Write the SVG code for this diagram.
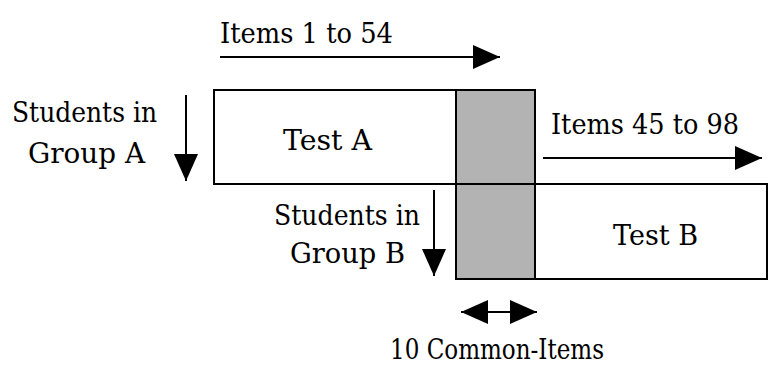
<svg xmlns="http://www.w3.org/2000/svg" width="768" height="367" viewBox="0 0 768 367">
<style>
.box{fill:#ffffff;stroke:#000000;stroke-width:2}
.common{fill:#b3b3b3;stroke:#000000;stroke-width:2}
.t{font-family:'DejaVu Serif','Liberation Serif',serif;font-size:28px;fill:#000000}
.ar{stroke:#000000;stroke-width:2;fill:none}
</style>
<defs>
<marker id="head" markerUnits="userSpaceOnUse" markerWidth="28" markerHeight="26" refX="27" refY="13" orient="auto-start-reverse">
<path d="M0,1 L27,13 L0,25 z" fill="#000000"/>
</marker>
</defs>
<rect width="768" height="367" fill="#ffffff"/>
<g id="testA">
<rect class="box" x="214" y="90" width="321" height="94"/>
<text class="t" x="283" y="150" textLength="89" lengthAdjust="spacingAndGlyphs">Test A</text>
</g>
<g id="testB">
<rect class="box" x="456" y="184" width="311" height="95"/>
<text class="t" x="613" y="245" textLength="85" lengthAdjust="spacingAndGlyphs">Test B</text>
</g>
<g id="common">
<rect class="common" x="456" y="90" width="79" height="189"/>
<line x1="456" y1="184" x2="535" y2="184" stroke="#000000" stroke-width="2"/>
</g>
<g id="labels">
<text class="t" x="220" y="43" textLength="173" lengthAdjust="spacingAndGlyphs">Items 1 to 54</text>
<text class="t" x="12" y="122" textLength="145" lengthAdjust="spacingAndGlyphs">Students in</text>
<text class="t" x="28" y="163" textLength="117" lengthAdjust="spacingAndGlyphs">Group A</text>
<text class="t" x="551" y="134" textLength="188" lengthAdjust="spacingAndGlyphs">Items 45 to 98</text>
<text class="t" x="274" y="225" textLength="146" lengthAdjust="spacingAndGlyphs">Students in</text>
<text class="t" x="290" y="263" textLength="115" lengthAdjust="spacingAndGlyphs">Group B</text>
<text class="t" x="390" y="359" textLength="214" lengthAdjust="spacingAndGlyphs">10 Common-Items</text>
</g>
<g id="connectors">
<line class="ar" x1="220" y1="57" x2="500" y2="57" marker-end="url(#head)"/>
<line class="ar" x1="186" y1="95" x2="186" y2="181" marker-end="url(#head)"/>
<line class="ar" x1="543" y1="158" x2="762" y2="158" marker-end="url(#head)"/>
<line class="ar" x1="434" y1="190" x2="434" y2="276" marker-end="url(#head)"/>
<line class="ar" x1="461" y1="312" x2="537" y2="312" marker-start="url(#head)" marker-end="url(#head)"/>
</g>
</svg>
